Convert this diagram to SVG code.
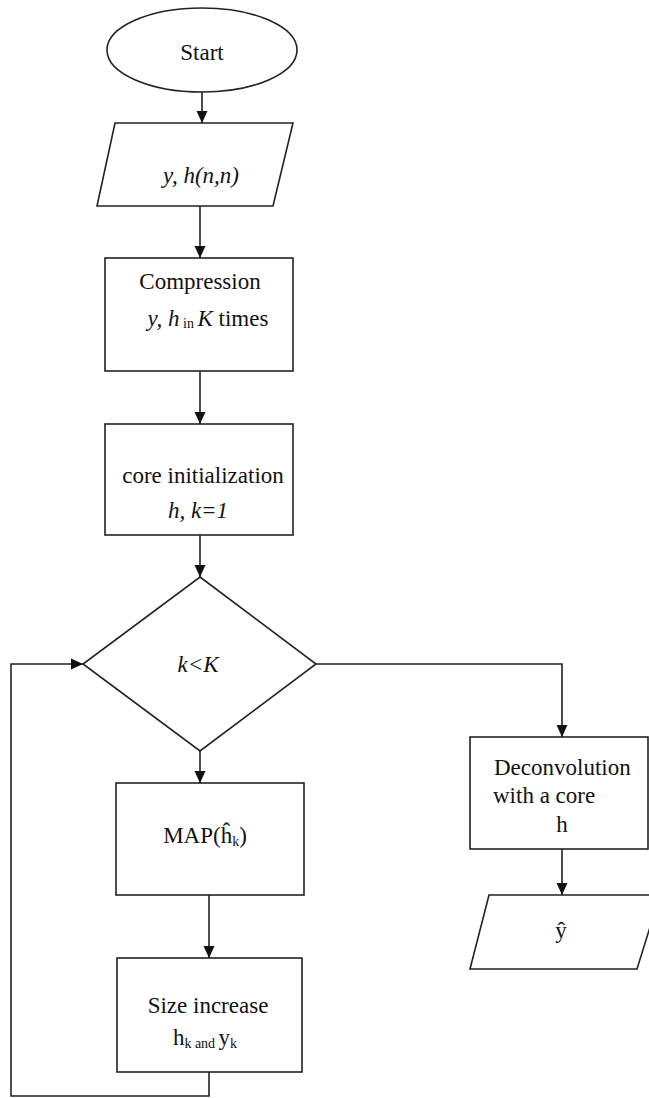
<svg xmlns="http://www.w3.org/2000/svg" width="649" height="1098" viewBox="0 0 649 1098">
<style>
.shape{fill:#fff;stroke:#222;stroke-width:1.6}
.conn{fill:none;stroke:#222;stroke-width:1.6}
text{font-family:'Liberation Serif','DejaVu Serif',serif;font-size:23px;fill:#111}
.it{font-style:italic}
.sm{font-size:14px}
</style>
<defs>
<marker id="arr" markerUnits="userSpaceOnUse" markerWidth="12" markerHeight="12" refX="12" refY="6" orient="auto">
<path d="M0,0.5 L12,6 L0,11.5 z" fill="#111"/>
</marker>
</defs>
<rect width="649" height="1098" fill="#fff"/>
<g id="connectors">
<line class="conn" x1="202" y1="92" x2="202" y2="123" marker-end="url(#arr)"/>
<line class="conn" x1="200" y1="206" x2="200" y2="258" marker-end="url(#arr)"/>
<line class="conn" x1="200" y1="371" x2="200" y2="424" marker-end="url(#arr)"/>
<line class="conn" x1="200" y1="535" x2="200" y2="577" marker-end="url(#arr)"/>
<line class="conn" x1="200" y1="751" x2="200" y2="783" marker-end="url(#arr)"/>
<line class="conn" x1="209" y1="895" x2="209" y2="958" marker-end="url(#arr)"/>
<polyline class="conn" points="315,664 562,664 562,737" marker-end="url(#arr)"/>
<line class="conn" x1="562" y1="849" x2="562" y2="895" marker-end="url(#arr)"/>
<polyline class="conn" points="209,1072 209,1096 11,1096 11,664 83,664" marker-end="url(#arr)"/>
</g>
<g id="start">
<ellipse class="shape" cx="202" cy="50" rx="95" ry="42"/>
<text x="202" y="60" text-anchor="middle">Start</text>
</g>
<g id="input">
<polygon class="shape" points="115,123 293,123 273,206 97,206"/>
<text class="it" x="201" y="183" text-anchor="middle">y, h(n,n)</text>
</g>
<g id="compression">
<rect class="shape" x="105" y="258" width="188" height="113"/>
<text x="200" y="289" text-anchor="middle">Compression</text>
<text x="208" y="326" text-anchor="middle"><tspan class="it">y, h</tspan><tspan class="sm" dy="2"> in </tspan><tspan class="it" dy="-2">K</tspan> times</text>
</g>
<g id="core">
<rect class="shape" x="105" y="424" width="188" height="111"/>
<text x="203" y="483" text-anchor="middle">core initialization</text>
<text class="it" x="198" y="518" text-anchor="middle">h, k=1</text>
</g>
<g id="decision">
<polygon class="shape" points="200,577 316,664 200,751 83,664"/>
<text class="it" x="198" y="672" text-anchor="middle">k&lt;K</text>
</g>
<g id="map">
<rect class="shape" x="116" y="783" width="188" height="112"/>
<text x="205" y="843" text-anchor="middle">MAP(ĥ<tspan class="sm" dy="3">k</tspan><tspan dy="-3">)</tspan></text>
</g>
<g id="size">
<rect class="shape" x="117" y="958" width="185" height="114"/>
<text x="208" y="1013" text-anchor="middle">Size increase</text>
<text x="205" y="1045" text-anchor="middle">h<tspan class="sm" dy="3">k and </tspan><tspan dy="-3">y</tspan><tspan class="sm" dy="3">k</tspan></text>
</g>
<g id="deconvolution">
<rect class="shape" x="470" y="737" width="178" height="112"/>
<text x="494" y="775">Deconvolution</text>
<text x="493" y="803">with a core</text>
<text x="562" y="832" text-anchor="middle">h</text>
</g>
<g id="output">
<polygon class="shape" points="489,895 660,895 637,969 470,969"/>
<text x="561" y="938" text-anchor="middle">ŷ</text>
</g>
</svg>
